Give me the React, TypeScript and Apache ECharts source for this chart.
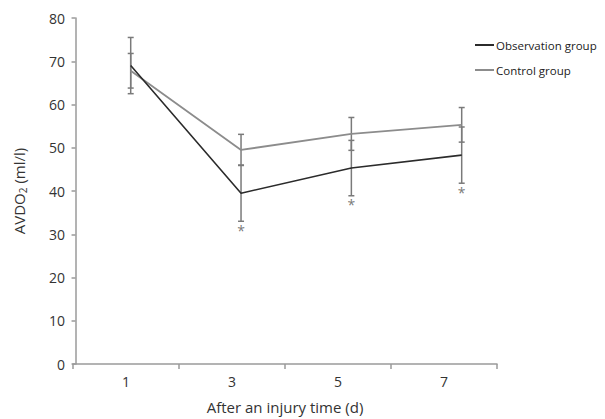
import React, { useEffect, useRef } from "react";
import * as echarts from "echarts";

const dayLabels = ["1", "3", "5", "7"];
const days = [1, 3, 5, 7];
const observationMean = [69.0, 39.5, 45.3, 48.3];
const observationSD = [6.5, 6.5, 6.4, 6.5];
const controlMean = [67.8, 49.5, 53.2, 55.3];
const controlSD = [4.0, 3.6, 3.8, 4.0];
const significantDays = [3, 5, 7];
const yTicks = { min: 0, max: 80, interval: 10 };

const FONT = "'Open Sans', 'Noto Sans', sans-serif";

export default function App() {
  const ref = useRef<HTMLDivElement>(null);
  useEffect(() => {
    if (!ref.current) return;
    const chart = echarts.init(ref.current, undefined, { renderer: "svg" });

    const errData = (means: number[], sds: number[]) =>
      days.map((d, i) => [d, means[i] - sds[i], means[i] + sds[i]]);

    const errSeries = (name: string, means: number[], sds: number[]) => ({
      type: "custom",
      name: name + " err",
      xAxisIndex: 1,
      yAxisIndex: 0,
      z: 1,
      silent: true,
      data: errData(means, sds),
      renderItem: (params: any, api: any) => {
        const x = api.value(0);
        const lo = api.coord([x, api.value(1)]);
        const hi = api.coord([x, api.value(2)]);
        const w = 3;
        const style = { stroke: "#7a7a7a", lineWidth: 1.5 };
        return {
          type: "group",
          children: [
            { type: "line", shape: { x1: lo[0], y1: lo[1], x2: hi[0], y2: hi[1] }, style },
            { type: "line", shape: { x1: lo[0] - w, y1: lo[1], x2: lo[0] + w, y2: lo[1] }, style },
            { type: "line", shape: { x1: hi[0] - w, y1: hi[1], x2: hi[0] + w, y2: hi[1] }, style },
          ],
        };
      },
    });

    const starData = significantDays.map((d) => {
      const i = days.indexOf(d);
      return [d, observationMean[i] - observationSD[i]];
    });

    chart.setOption({
      animation: false,
      backgroundColor: "#ffffff",
      textStyle: { fontFamily: FONT },
      grid: { left: 73, right: 108, top: 18, bottom: 54 },
      legend: {
        orient: "vertical",
        left: 470,
        top: 34,
        itemGap: 13,
        itemWidth: 19,
        itemHeight: 2,
        icon: "rect",
        textStyle: { fontFamily: FONT, fontSize: 11.5, color: "#222", padding: [0, 0, 0, -3] },
        data: ["Observation group", "Control group"],
      },
      xAxis: [
        {
          type: "category",
          data: dayLabels,
          boundaryGap: true,
          name: "After an injury time (d)",
          nameLocation: "middle",
          nameGap: 35,
          nameTextStyle: { fontFamily: FONT, fontSize: 15, color: "#333" },
          axisLine: { lineStyle: { color: "#9a9a9a", width: 1.5 } },
          axisTick: { show: true, alignWithLabel: false, length: 5, lineStyle: { color: "#9a9a9a", width: 1.5 } },
          axisLabel: { fontFamily: FONT, fontSize: 14, color: "#333", margin: 10 },
          splitLine: { show: false },
        },
        {
          type: "value",
          min: -0.046,
          max: 7.64,
          show: false,
          position: "bottom",
          splitLine: { show: false },
        },
      ],
      yAxis: {
        type: "value",
        min: yTicks.min,
        max: yTicks.max,
        interval: yTicks.interval,
        name: "AVDO{sub|2} (ml/l)",
        nameLocation: "middle",
        nameGap: 45,
        nameRotate: 90,
        nameTextStyle: {
          fontFamily: FONT,
          fontSize: 15,
          color: "#333",
          rich: {
            sub: { fontFamily: FONT, fontSize: 10, color: "#333", verticalAlign: "bottom", padding: [8, 0, 0, 0] },
          },
        },
        axisLine: { show: true, lineStyle: { color: "#9a9a9a", width: 1.5 } },
        axisTick: { show: true, length: 4, lineStyle: { color: "#9a9a9a", width: 1.5 } },
        axisLabel: { fontFamily: FONT, fontSize: 14, color: "#333", margin: 8 },
        splitLine: { show: false },
      },
      series: [
        errSeries("Observation group", observationMean, observationSD),
        errSeries("Control group", controlMean, controlSD),
        {
          name: "Control group",
          type: "line",
          xAxisIndex: 1,
          data: days.map((d, i) => [d, controlMean[i]]),
          symbol: "none",
          lineStyle: { color: "#8c8c8c", width: 1.8 },
          itemStyle: { color: "#8c8c8c" },
          z: 2,
        },
        {
          name: "Observation group",
          type: "line",
          xAxisIndex: 1,
          data: days.map((d, i) => [d, observationMean[i]]),
          symbol: "none",
          lineStyle: { color: "#2b2b2b", width: 1.6 },
          itemStyle: { color: "#2b2b2b" },
          z: 3,
        },
        {
          name: "sig",
          type: "scatter",
          xAxisIndex: 1,
          data: starData,
          symbolSize: 0,
          silent: true,
          label: {
            show: true,
            formatter: "*",
            position: "bottom",
            distance: 2,
            fontFamily: FONT,
            fontSize: 14,
            color: "#555",
          },
        },
      ],
    });
    return () => chart.dispose();
  }, []);
  return (
    <div style={{ position: "fixed", left: 0, top: 0, width: 605, height: 419 }}>
      <div ref={ref} style={{ width: 605, height: 419 }} />
    </div>
  );
}
